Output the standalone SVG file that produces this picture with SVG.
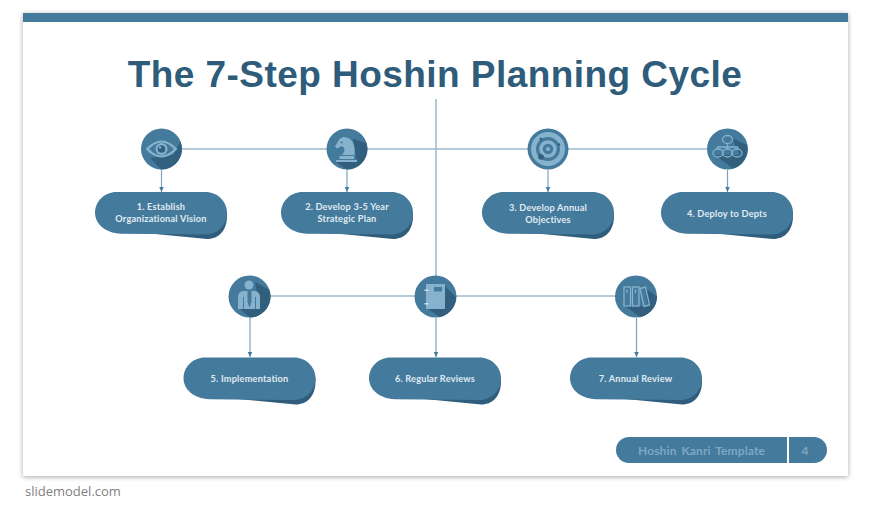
<svg xmlns="http://www.w3.org/2000/svg" width="870" height="505" viewBox="0 0 870 505">
<style>
.c{fill:#447a9c}
.ls{fill:#315f7d}
.ic{fill:#86b2cd}
.io{fill:none;stroke:#86b2cd;stroke-width:1.3}
.dk{fill:#315f7d}
.pill{fill:#447a9c}
.ps{fill:#2f5d7b}
.t{font-family:"Lato","Liberation Sans",sans-serif;font-weight:700;font-size:9.2px;fill:#e0ebf2;text-anchor:middle;letter-spacing:.2px}
.ln{stroke:#9cb9cb;stroke-width:1.5;fill:none}
.ar{stroke:#7ea3ba;stroke-width:1.2;fill:none;marker-end:url(#a)}
</style>
<defs>
<filter id="sh" x="-5%" y="-5%" width="110%" height="110%"><feGaussianBlur stdDeviation="2.5"/></filter>
<marker id="a" markerUnits="userSpaceOnUse" markerWidth="7" markerHeight="6" refX="5.5" refY="2.500" orient="auto"><path d="M0 0L5.500 2.500L0 5Z" fill="#447a9c"/></marker>
<g id="pillshape"><path class="ps" d="M40 40L112 47C124 47 132 38 132 24V20H40Z"/><path class="pill" d="M21.500 0H110.500C122.500 0 132 9.500 132 21C132 33 122.500 42.500 110.500 42.500L26 41.800C9 41 0 31 0 20.500C0 9.500 9.500 0 21.500 0Z"/></g>
</defs>

<rect x="23" y="14" width="825" height="463" fill="#000" opacity=".35" filter="url(#sh)"/>
<rect x="23" y="13" width="825" height="463" fill="#fff"/>
<rect x="23" y="13" width="825" height="9" fill="#447a9c"/>
<text x="435" y="87" font-family="'Liberation Sans',Arial,sans-serif" font-weight="700" font-size="37" letter-spacing=".45" fill="#2e5c7a" text-anchor="middle">The 7-Step Hoshin Planning Cycle</text>

<g id="connectors">
<path class="ln" d="M436 99V276M182 149H707M270 296H415M456 296H616"/>
<path class="ar" d="M161.500 170V192"/>
<path class="ar" d="M347 170V192"/>
<path class="ar" d="M548 170V192"/>
<path class="ar" d="M727.500 170V192"/>
<path class="ar" d="M250 318V357"/>
<path class="ar" d="M436 318V357"/>
<path class="ar" d="M636.500 318V357"/>
</g>

<g id="node1">
<circle class="c" cx="161.500" cy="149" r="20.500"/>
<path class="ls" d="M173 155 L180.500 141.500A20.500 20.500 0 0 1 161 169.500L150 158Z"/>
<path class="ic" d="M145.500 149Q161.500 132 177.500 149Q161.500 166 145.500 149Z"/>
<path class="c" d="M149 149Q161.500 136 174 149Q161.500 162 149 149Z"/>
<circle cx="161.500" cy="149" r="6" class="ic"/>
<circle cx="161.500" cy="149" r="3.800" class="dk"/>
<circle cx="160" cy="147.500" r="1.200" class="ic"/>
</g>
<g id="pill1"><use href="#pillshape" x="95" y="192"/><text class="t" x="161" y="210">1. Establish</text><text class="t" x="161" y="222">Organizational Vision</text></g>

<g id="node2">
<circle class="c" cx="347" cy="149" r="20.500"/>
<path class="ls" d="M353 139L366.500 143A20.500 20.500 0 0 1 347 169.500L336 162H357Z"/>
<path class="ic" d="M336 160H357V162H336ZM339.500 156H354V159H339.500ZM342 155Q347 149 342 146L337 148.500L335 146.500L339.500 139L343 137Q356 137 354.500 155Z"/>
<circle cx="341.500" cy="142.500" r="1" fill="#447a9c"/>
</g>
<g id="pill2"><use href="#pillshape" x="281" y="192"/><text class="t" x="347" y="210">2. Develop 3-5 Year</text><text class="t" x="347" y="222">Strategic Plan</text></g>

<g id="node3">
<circle class="c" cx="548" cy="149" r="20.500"/>
<circle cx="548" cy="149" r="14.500" fill="none" stroke="#86b2cd" stroke-width="5"/>
<circle cx="548" cy="149" r="7" fill="none" stroke="#86b2cd" stroke-width="3.500"/>
<circle cx="548" cy="149" r="2" class="ic"/>
<circle cx="541" cy="139" r="1.500" class="dk"/>
<circle cx="559" cy="144.500" r="1.200" class="dk"/>
<circle cx="541" cy="157" r="2.800" class="dk"/>
</g>
<g id="pill3"><use href="#pillshape" x="482" y="192"/><text class="t" x="548" y="210.500">3. Develop Annual</text><text class="t" x="548" y="222.500">Objectives</text></g>

<g id="node4">
<circle class="c" cx="727.500" cy="149" r="20.500"/>
<path class="ls" d="M732 138L747 145A20.500 20.500 0 0 1 733 168.500L715 155H740Z"/>
<g class="io">
<ellipse cx="727.500" cy="139.500" rx="5" ry="4"/>
<path d="M727.500 143.500V149M717.500 149V147H737.500V149"/>
<ellipse cx="718" cy="153" rx="5" ry="4"/>
<ellipse cx="727.500" cy="153" rx="5" ry="4"/>
<ellipse cx="737" cy="153" rx="5" ry="4"/>
</g>
</g>
<g id="pill4"><use href="#pillshape" x="661" y="192"/><text class="t" x="727" y="217">4. Deploy to Depts</text></g>

<g id="node5">
<circle class="c" cx="249.500" cy="296.500" r="21"/>
<path class="ls" d="M255 282L269.500 290A21 21 0 0 1 250 317.500L240 309H260Z"/>
<circle cx="249" cy="285" r="4.500" class="ic"/>
<path class="ic" d="M238 309V297Q238 292 243 291H247.500V302L249.500 308L251.500 302V291H255Q260 292 260 297V309H256V297H255V309H244V297H243V309Z"/>
</g>
<g id="pill5"><use href="#pillshape" x="183.500" y="357.500"/><text class="t" x="249.500" y="382">5. Implementation</text></g>

<g id="node6">
<circle class="c" cx="435.500" cy="296.500" r="21"/>
<path class="ls" d="M444 285L456 297A21 21 0 0 1 440 317L428 309H444Z"/>
<path class="ic" d="M426 284H444Q445 284 445 285V308Q445 309 444 309H426Z"/>
<rect x="424.500" y="289.500" width="4" height="1.500" fill="#cfe0ea"/>
<rect x="424.500" y="303" width="4" height="1.500" fill="#cfe0ea"/>
<rect x="434" y="287" width="8" height="4.500" fill="#447a9c"/>
</g>
<g id="pill6"><use href="#pillshape" x="369" y="357.500"/><text class="t" x="435" y="382">6. Regular Reviews</text></g>

<g id="node7">
<circle class="c" cx="636" cy="296.500" r="21"/>
<path class="ls" d="M645 288L657 296.500A21 21 0 0 1 640 317L625 306H648Z"/>
<g class="io">
<rect x="624" y="287" width="6.500" height="19"/>
<rect x="632.500" y="287" width="6.500" height="19"/>
<path d="M640 288.500L645.500 287L649.500 305L644 306.500Z"/>
<path d="M627 289.500V293M635.500 289.500V293"/>
</g>
</g>
<g id="pill7"><use href="#pillshape" x="570" y="357.500"/><text class="t" x="635.500" y="382">7. Annual Review</text></g>

<g id="footer">
<path class="pill" d="M629 437H787V463H629A13 13 0 0 1 629 437Z"/>
<path class="pill" d="M789 437H814A13 13 0 0 1 814 463H789Z"/>
<text x="701.500" y="454.500" font-family="'Lato','Liberation Sans',sans-serif" font-weight="700" font-size="12" fill="#7ea8c3" text-anchor="middle" letter-spacing=".1" word-spacing="2">Hoshin Kanri Template</text>
<text x="805" y="454.500" font-family="'Lato','Liberation Sans',sans-serif" font-weight="700" font-size="12" fill="#7ea8c3" text-anchor="middle">4</text>
</g>
<text x="25" y="496" font-family="'Open Sans','Liberation Sans',sans-serif" font-size="13" fill="#7f7f7f">slidemodel.com</text>
</svg>
